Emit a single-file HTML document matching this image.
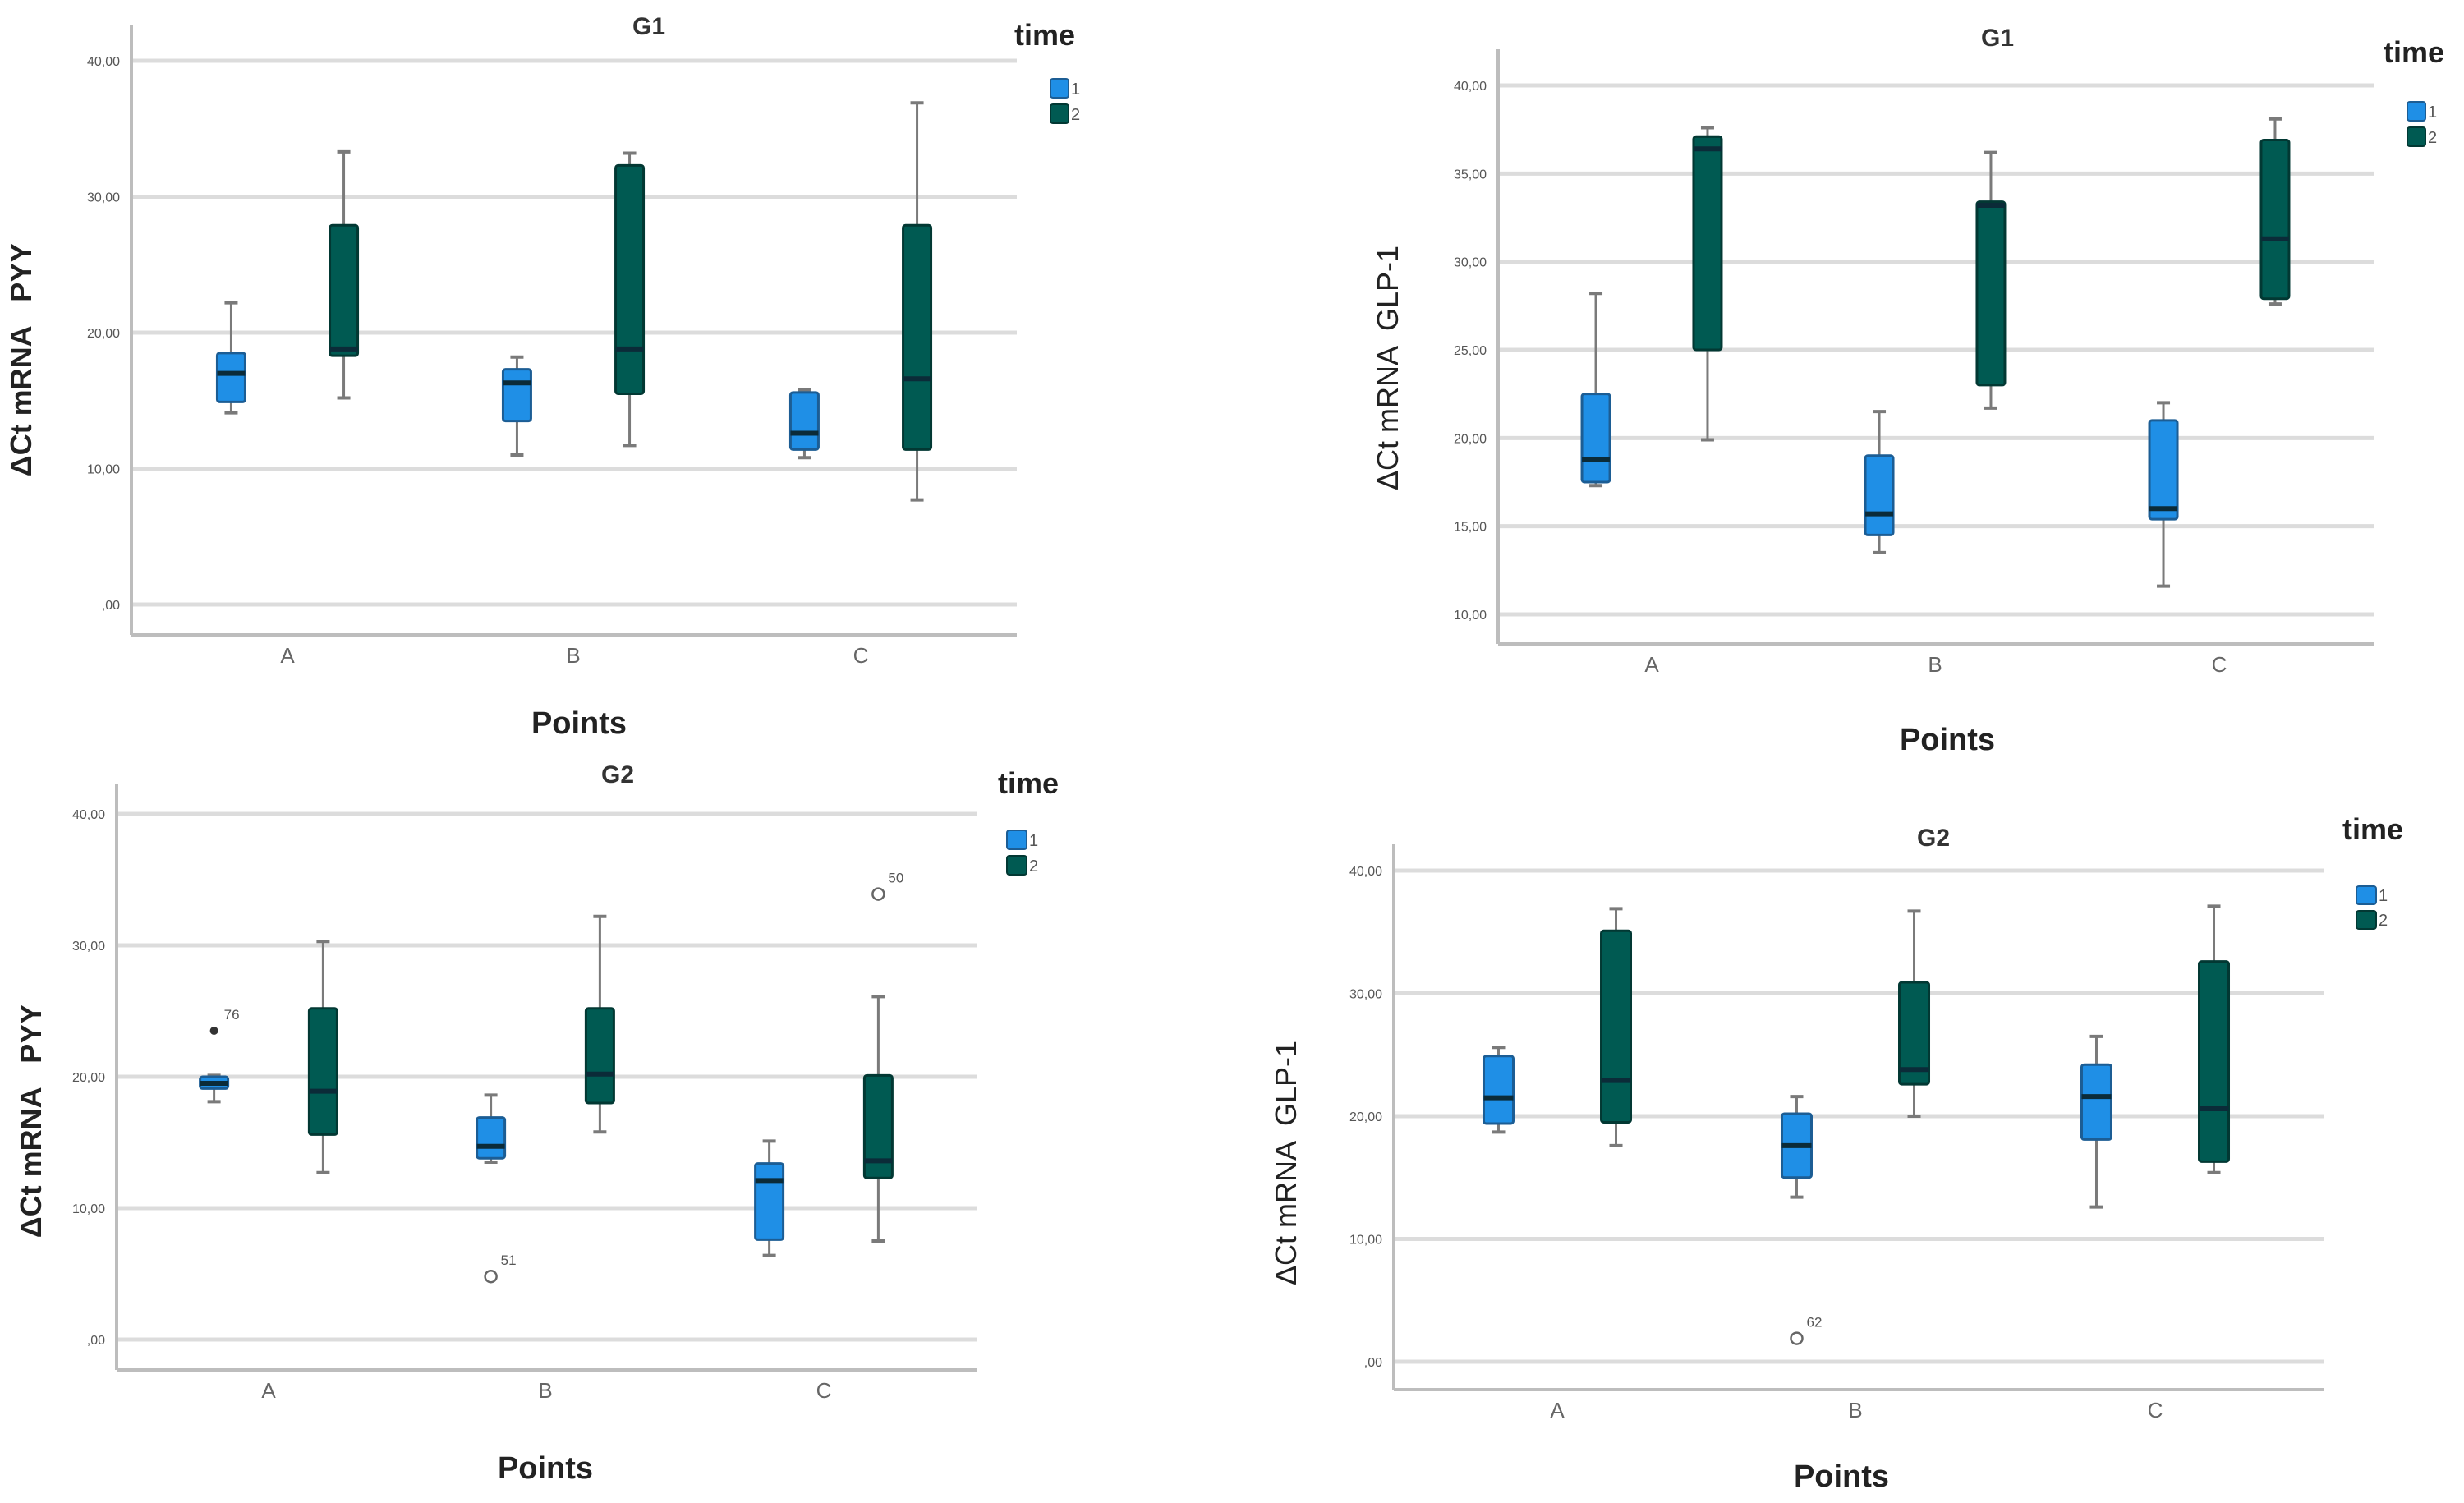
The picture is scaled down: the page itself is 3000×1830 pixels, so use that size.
<!DOCTYPE html>
<html><head><meta charset="utf-8"><style>
html,body{margin:0;padding:0;background:#fff;}
svg{display:block;}
text{font-family:"Liberation Sans",sans-serif;}
</style></head><body>
<svg id="fig" width="3000" height="1830" viewBox="0 0 3000 1830" xmlns="http://www.w3.org/2000/svg"></svg>
<script>
// ---- data ----
const categories = ["A","B","C"];
const seriesNames = ["1","2"];
// each box: [whiskerLow, q1, median, q3, whiskerHigh]
const p1Time1 = [[14.1,14.9,17.0,18.5,22.2],[11.0,13.5,16.3,17.3,18.2],[10.8,11.4,12.6,15.6,15.8]];
const p1Time2 = [[15.2,18.3,18.8,27.9,33.3],[11.7,15.5,18.8,32.3,33.2],[7.7,11.4,16.6,27.9,36.9]];
const p2Time1 = [[17.3,17.5,18.8,22.5,28.2],[13.5,14.5,15.7,19.0,21.5],[11.6,15.4,16.0,21.0,22.0]];
const p2Time2 = [[19.9,25.0,36.4,37.1,37.6],[21.7,23.0,33.2,33.4,36.2],[27.6,27.9,31.3,36.9,38.1]];
const p3Time1 = [[18.1,19.1,19.5,20.0,20.1],[13.5,13.8,14.7,16.9,18.6],[6.4,7.6,12.1,13.4,15.1]];
const p3Time2 = [[12.7,15.6,18.9,25.2,30.3],[15.8,18.0,20.2,25.2,32.2],[7.5,12.3,13.6,20.1,26.1]];
const p4Time1 = [[18.7,19.4,21.5,24.9,25.6],[13.4,15.0,17.6,20.2,21.6],[12.6,18.1,21.6,24.2,26.5]];
const p4Time2 = [[17.6,19.5,22.9,35.1,36.9],[20.0,22.6,23.8,30.9,36.7],[15.4,16.3,20.6,32.6,37.1]];
// outliers: [categoryIndex, seriesIndex, value, label, marker]
const p3Outliers = [[0,0,23.5,"76","star"],[1,0,4.8,"51","circle"],[2,1,33.9,"50","circle"]];
const p4Outliers = [[1,0,1.9,"62","circle"]];
const pyyTicks = [0,10,20,30,40];
const pyyTickLabels = [",00","10,00","20,00","30,00","40,00"];
const glpTicks = [10,15,20,25,30,35,40];
const glpTickLabels = ["10,00","15,00","20,00","25,00","30,00","35,00","40,00"];
const glp2Ticks = [0,10,20,30,40];
const glp2TickLabels = [",00","10,00","20,00","30,00","40,00"];

const NS="http://www.w3.org/2000/svg";
const svg=document.getElementById('fig');
function mk(tag,attrs,parent){const e=document.createElementNS(NS,tag);for(const k in attrs)e.setAttribute(k,attrs[k]);(parent||svg).appendChild(e);return e;}
const FILL=["#1f8fe6","#005a52"], STROKE=["#1c5d94","#023833"];

function panel(cfg){
  const g=mk('g',{});
  
  
  const vmin=cfg.ticks[0], vmax=cfg.ticks[cfg.ticks.length-1];
  const y=v=>cfg.y0+(v-vmin)*(cfg.y1-cfg.y0)/(vmax-vmin);
  const spacing=cfg.cx[1]-cfg.cx[0];
  const x=(ci,si)=>cfg.cx[ci]+(si===0?-1:1)*spacing*0.197;
  cfg.ticks.forEach((t,i)=>{
    const l=mk('line',{x1:cfg.ax,x2:cfg.xr,y1:y(t),y2:y(t),stroke:"#dcdcdc","stroke-width":5},g);
    
    
    const tx=mk('text',{x:cfg.ax-14,y:y(t)+6,"text-anchor":"end","font-size":16,fill:"#555"},g);
    tx.textContent=cfg.tickLabels[i];
    
    
  });
  const ya=mk('line',{x1:cfg.ax,x2:cfg.ax,y1:cfg.top,y2:cfg.bottom,stroke:"#bdbdbd","stroke-width":4},g);
  
  
  const xa=mk('line',{x1:cfg.ax,x2:cfg.xr,y1:cfg.bottom,y2:cfg.bottom,stroke:"#bdbdbd","stroke-width":4},g);
  
  
  categories.forEach((c,i)=>{
    const t=mk('text',{x:cfg.cx[i],y:cfg.bottom+34,"text-anchor":"middle","font-size":26,fill:"#666"},g);
    t.textContent=c;
    
    
  });
  [cfg.s1,cfg.s2].forEach((ser,si)=>{
    ser.forEach((b,ci)=>{
      const cx=x(ci,si), w=cfg.bw;
      const wl=mk('line',{x1:cx,x2:cx,y1:y(b[0]),y2:y(b[4]),stroke:"#7a7a7a","stroke-width":3},g);
      
      
      [b[0],b[4]].forEach(v=>{
        const cap=mk('line',{x1:cx-8,x2:cx+8,y1:y(v),y2:y(v),stroke:"#7a7a7a","stroke-width":4},g);
        
        
      });
      const r=mk('rect',{x:cx-w/2,y:y(b[3]),width:w,height:Math.max(2,y(b[1])-y(b[3])),fill:FILL[si],stroke:STROKE[si],"stroke-width":3,rx:3},g);
      
      
      const m=mk('line',{x1:cx-w/2,x2:cx+w/2,y1:y(b[2]),y2:y(b[2]),stroke:"#0b2b38","stroke-width":6},g);
      
      
    });
  });
  (cfg.outliers||[]).forEach(o=>{
    const cx=x(o[0],o[1]), cy=y(o[2]);
    let mkr;
    if(o[4]==="star"){mkr=mk('circle',{cx:cx,cy:cy,r:5,fill:"#333"},g);}
    else{mkr=mk('circle',{cx:cx,cy:cy,r:7,fill:"none",stroke:"#666","stroke-width":2.5},g);}
    
    
    const t=mk('text',{x:cx+12,y:cy-14,"font-size":17,fill:"#555"},g);
    t.textContent=o[3];
    
    
  });
  const ti=mk('text',{x:cfg.title[0],y:cfg.title[1],"text-anchor":"middle","font-size":30,"font-weight":"bold",fill:"#333"},g);
  ti.textContent=cfg.titleText;
  
  
  const xt=mk('text',{x:cfg.xlab[0],y:cfg.xlab[1],"text-anchor":"middle","font-size":38,"font-weight":"bold",fill:"#222"},g);
  xt.textContent="Points";
  
  
  const yt=mk('text',{x:0,y:0,"text-anchor":"middle","font-size":36,"font-weight":cfg.ybold?"bold":"normal",fill:"#222",transform:`translate(${cfg.ylab[0]},${cfg.ylab[1]}) rotate(-90)`,style:"white-space:pre"},g);
  yt.textContent=cfg.ylabText;
  
  
  const lt=mk('text',{x:cfg.leg[0],y:cfg.leg[1],"font-size":36,"font-weight":"bold",fill:"#222"},g);
  lt.textContent="time";
  
  
  seriesNames.forEach((s,i)=>{
    const sy=cfg.sw[1]+i*cfg.sw[3];
    const r=mk('rect',{x:cfg.sw[0],y:sy,width:cfg.sw[2],height:cfg.sw[3]-8,fill:FILL[i],stroke:STROKE[i],"stroke-width":2,rx:3},g);
    
    
    const t=mk('text',{x:cfg.sw[0]+cfg.sw[2]+3,y:sy+cfg.sw[3]-12,"font-size":20,fill:"#555"},g);
    t.textContent=s;
    
    
  });
}

panel({name:"panel-g1-pyy",ticks:pyyTicks,tickLabels:pyyTickLabels,y0:736,y1:74,ax:160,xr:1238,top:30,bottom:773,
  cx:[350,698,1048],bw:34,s1:p1Time1,s2:p1Time2,title:[790,42],titleText:"G1",xlab:[705,893],
  ylab:[38,438],ylabText:"ΔCt mRNA   PYY",ybold:true,leg:[1235,55],sw:[1279,96,22,31]});
panel({name:"panel-g1-glp1",ticks:glpTicks,tickLabels:glpTickLabels,y0:748,y1:104,ax:1824,xr:2890,top:60,bottom:784,
  cx:[2011,2356,2702],bw:34,s1:p2Time1,s2:p2Time2,title:[2432,56],titleText:"G1",xlab:[2371,913],
  ylab:[1702,448],ylabText:"ΔCt mRNA  GLP-1",ybold:false,leg:[2902,76],sw:[2931,124,22,31]});
panel({name:"panel-g2-pyy",ticks:pyyTicks,tickLabels:pyyTickLabels,y0:1631,y1:991,ax:142,xr:1189,top:955,bottom:1668,
  cx:[327,664,1003],bw:34,s1:p3Time1,s2:p3Time2,outliers:p3Outliers,title:[752,953],titleText:"G2",xlab:[664,1800],
  ylab:[50,1365],ylabText:"ΔCt mRNA   PYY",ybold:true,leg:[1215,966],sw:[1226,1011,24,31]});
panel({name:"panel-g2-glp1",ticks:glp2Ticks,tickLabels:glp2TickLabels,y0:1658,y1:1060,ax:1697,xr:2830,top:1028,bottom:1692,
  cx:[1896,2259,2624],bw:36,s1:p4Time1,s2:p4Time2,outliers:p4Outliers,title:[2354,1030],titleText:"G2",xlab:[2242,1810],
  ylab:[1578,1416],ylabText:"ΔCt mRNA  GLP-1",ybold:false,leg:[2852,1022],sw:[2869,1079,24,30]});
</script>
</body></html>
